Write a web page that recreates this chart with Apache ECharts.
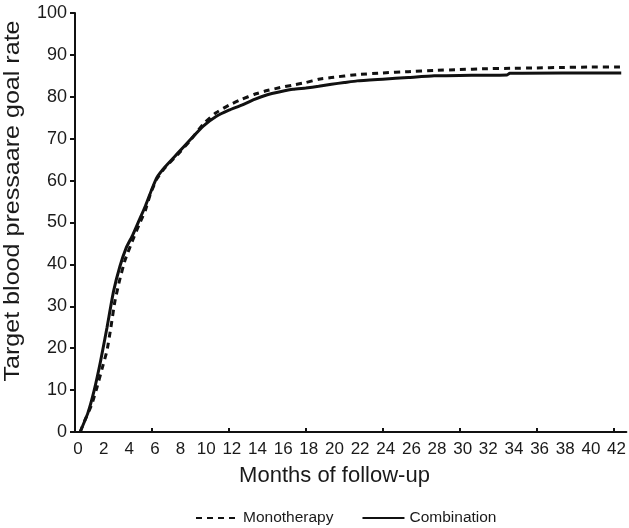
<!DOCTYPE html>
<html>
<head>
<meta charset="utf-8">
<script src="https://cdn.jsdelivr.net/npm/echarts@6/dist/echarts.min.js"></script>
<style>
html,body{margin:0;padding:0;background:#fff;}
#chart{width:629px;height:528px;}
</style>
</head>
<body>
<div id="chart"></div>
<script>
// ---- Data ----
const seriesNames = ['Monotherapy', 'Combination'];

const monoMonths = [0.4, 0.8, 1.3, 1.7, 2.1, 2.5, 2.8, 3.1, 3.5, 3.9, 4.5, 5, 5.5, 5.9, 6.4, 7, 8, 9, 10, 11, 12, 13, 14, 15, 16, 17, 18, 19, 20, 22, 24, 26, 28, 30, 32, 34, 36, 38, 40, 42.6];
const monoRate   = [0, 3, 6.5, 10.5, 15, 19.5, 25, 31, 36.5, 41, 45.8, 49.5, 53, 57, 60.5, 63, 66.2, 69.6, 73.5, 76.2, 78, 79.4, 80.6, 81.5, 82.2, 82.8, 83.4, 84.2, 84.6, 85.3, 85.7, 86, 86.3, 86.5, 86.7, 86.8, 86.9, 87, 87.1, 87.1];

const comboMonths = [0.4, 1, 1.5, 2, 2.5, 3, 3.5, 4, 4.5, 5, 5.5, 6, 6.4, 7, 8, 9, 10, 11, 12, 13, 14, 15, 16, 17, 18, 19, 20, 21, 22, 24, 26, 28, 30, 33.7, 33.9, 38, 42.6];
const comboRate   = [0, 4.5, 10, 17, 25, 33.5, 39.5, 44, 47, 50.5, 54, 58, 60.8, 63.2, 66.5, 69.8, 73, 75.3, 76.8, 78, 79.4, 80.5, 81.2, 81.8, 82.1, 82.5, 83, 83.4, 83.8, 84.2, 84.6, 85, 85.1, 85.2, 85.6, 85.7, 85.7];

const xTickLabels = [0, 2, 4, 6, 8, 10, 12, 14, 16, 18, 20, 22, 24, 26, 28, 30, 32, 34, 36, 38, 40, 42];
const xMajorTicks = [6, 12, 18, 24, 30, 36, 42];
const yTickLabels = [0, 10, 20, 30, 40, 50, 60, 70, 80, 90, 100];

const xTitle = 'Months of follow-up';
const yTitle = 'Target blood pressaare goal rate';

// ---- Chart ----
const zip = (xs, ys) => xs.map((x, i) => [x, ys[i]]);
const ink = '#111';
const font = "'Liberation Sans', Arial, sans-serif";
const chart = echarts.init(document.getElementById('chart'), null, {renderer: 'canvas'});

chart.setOption({
  animation: false,
  backgroundColor: '#fff',
  grid: {left: 75, right: 2, top: 13, bottom: 96, containLabel: false},
  xAxis: {
    type: 'value', min: 0, max: 43,
    axisLine: {show: true, lineStyle: {color: ink, width: 2}},
    axisTick: {show: true, inside: true, length: 4, lineStyle: {color: ink, width: 2}, customValues: xMajorTicks},
    axisLabel: {
      color: '#1a1a1a', fontSize: 17, margin: 9,
      fontFamily: font,
      padding: [0, 0, 0, 6],
      customValues: xTickLabels
    },
    splitLine: {show: false}
  },
  yAxis: {
    type: 'value', min: 0, max: 100, interval: 10,
    axisLine: {show: true, lineStyle: {color: ink, width: 2}},
    axisTick: {show: true, inside: false, length: 5, lineStyle: {color: ink, width: 2}},
    axisLabel: {
      color: '#1a1a1a', fontSize: 18, margin: 8,
      fontFamily: font,
      customValues: yTickLabels
    },
    splitLine: {show: false}
  },
  legend: {
    left: 190, top: 505,
    itemWidth: 42, itemHeight: 12, itemGap: 28,
    itemStyle: {opacity: 0},
    textStyle: {color: '#1a1a1a', fontSize: 15.5, fontFamily: font},
    data: seriesNames
  },
  graphic: [
    {
      type: 'text', x: 334.5, y: 476,
      style: {text: xTitle, fill: '#1a1a1a', fontSize: 22, fontFamily: font,
              align: 'center', verticalAlign: 'middle'}
    },
    {
      type: 'text', x: 13, y: 201, rotation: Math.PI / 2, scaleX: 1.14,
      style: {text: yTitle, fill: '#1a1a1a', fontSize: 22, fontFamily: font,
              align: 'center', verticalAlign: 'middle'}
    }
  ],
  series: [
    {
      name: seriesNames[0], type: 'line', symbol: 'none', smooth: 0.15,
      lineStyle: {color: ink, width: 3, type: [6, 5]},
      itemStyle: {color: ink},
      data: zip(monoMonths, monoRate), z: 3
    },
    {
      name: seriesNames[1], type: 'line', symbol: 'none', smooth: 0.15,
      lineStyle: {color: ink, width: 3, type: 'solid'},
      itemStyle: {color: ink},
      data: zip(comboMonths, comboRate), z: 4
    }
  ]
});
</script>
</body>
</html>
